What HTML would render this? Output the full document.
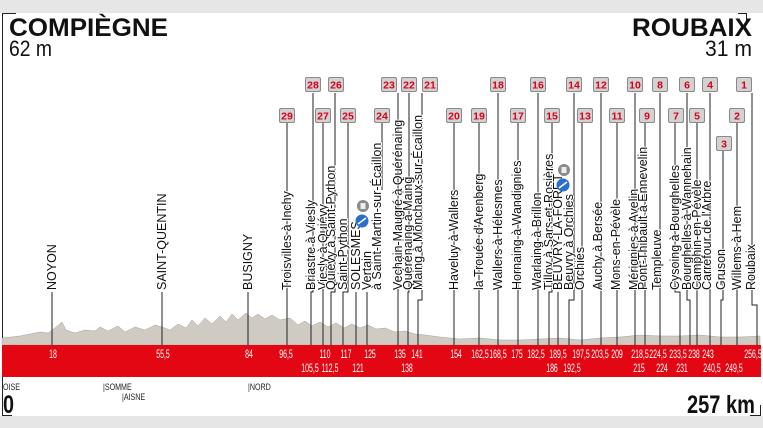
<!DOCTYPE html>
<html><head><meta charset="utf-8"><style>
html,body{margin:0;padding:0;background:#fff;}
svg{display:block;}
.lb{font-family:"Liberation Sans",sans-serif;font-size:12.5px;fill:#111;stroke:#fff;stroke-width:2px;paint-order:stroke;}
.bn{font-family:"Liberation Sans",sans-serif;font-weight:bold;font-size:10.5px;fill:#d8001a;text-anchor:middle;}
.rn{font-family:"Liberation Sans",sans-serif;font-size:12px;fill:#fff;text-anchor:middle;}
.dp{font-family:"Liberation Sans",sans-serif;font-size:9.5px;fill:#222;}
</style></head><body>
<svg width="763" height="428" viewBox="0 0 763 428" xmlns="http://www.w3.org/2000/svg">
<defs>
<g id="bd"><rect x="-8" y="0" width="16" height="15" rx="2" fill="#8a8a8a"/><rect x="-7" y="1" width="14" height="13" rx="1.5" fill="#d2d2d2"/></g>
</defs>
<rect x="0" y="0" width="763" height="13" fill="#e6e6e6"/>
<rect x="0" y="416" width="763" height="12" fill="#e6e6e6"/>
<path d="M16 13.5H2.5V415.5H12" stroke="#222" fill="none"/>
<path d="M738 13.5H746.5V22" stroke="#222" fill="none"/>
<path d="M750 415.5H760.5V405" stroke="#222" fill="none"/>

<text x="9" y="36" font-family="Liberation Sans,sans-serif" font-weight="bold" font-size="25" textLength="159" lengthAdjust="spacingAndGlyphs" fill="#111">COMPIÈGNE</text>
<text x="9" y="56" font-family="Liberation Sans,sans-serif" font-size="22" textLength="43" lengthAdjust="spacingAndGlyphs" fill="#111">62 m</text>
<text x="752" y="36" text-anchor="end" font-family="Liberation Sans,sans-serif" font-weight="bold" font-size="25" textLength="120" lengthAdjust="spacingAndGlyphs" fill="#111">ROUBAIX</text>
<text x="705" y="56" font-family="Liberation Sans,sans-serif" font-size="22" textLength="47" lengthAdjust="spacingAndGlyphs" fill="#111">31 m</text>

<polygon fill="#cfcac2" stroke="#a8a39a" stroke-width="0.5" points="2,345 2,338 20,336 30,334 40,332 48,333 55,328 62,322 66,330 75,333 85,330 95,331 100,327 108,331 118,326 125,332 135,327 145,330 155,325 162,327 170,330 178,324 186,328 192,320 198,326 205,318 212,324 220,316 226,322 232,314 238,320 246,313 252,318 258,314 265,319 272,315 280,320 290,318 298,325 305,321 312,326 320,322 328,327 336,323 344,328 352,324 360,328 368,325 376,329 385,328 395,332 405,331 415,334 425,335 440,337 460,339 480,338 500,340 520,340 540,339 560,338 580,340 600,338 620,337 640,335 660,336 680,336 700,335 720,337 740,337 760,336 760,345"/>

<rect x="2" y="345" width="759" height="32" fill="#e30613"/>

<g stroke="#222" stroke-width="1" fill="none">
<path d="M52 292V345M162 292V345M248 292V345"/>
<path d="M287 123V345"/>
<path d="M313 93V292H311V345"/>
<path d="M323 123V345"/>
<path d="M335 93V292H331V345"/>
<path d="M348 123V292H343V345"/>
<path d="M356 292V345"/>
<path d="M382 123V190"/><path d="M367 292V345"/>
<path d="M398 93V345"/>
<path d="M409 93V292H408V345"/>
<path d="M422 93V300H418V345"/>
<path d="M454 123V345"/>
<path d="M479 123V345"/>
<path d="M498 93V345"/>
<path d="M518 123V345"/>
<path d="M538 93V345"/>
<path d="M552 123V292H549V345"/>
<path d="M558 292V345"/>
<path d="M574 93V300H569V345"/>
<path d="M582 123V345"/>
<path d="M601 93V345"/>
<path d="M617 123V345"/>
<path d="M635 93V345"/>
<path d="M645 123V345"/>
<path d="M660 93V345"/>
<path d="M675 123V292H680V345"/>
<path d="M687 93V300H690V345"/>
<path d="M697 123V345"/>
<path d="M710 93V345"/>
<path d="M723 150V300H721V345"/>
<path d="M737 123V345"/>
<path d="M752 93V305H757V345"/>
</g>

<g class="lb">
<text transform="translate(56,290) rotate(-90)">NOYON</text>
<text transform="translate(166,290) rotate(-90)">SAINT-QUENTIN</text>
<text transform="translate(252,290) rotate(-90)">BUSIGNY</text>
<text transform="translate(291,290) rotate(-90)">Troisvilles à Inchy</text>
<text transform="translate(315,290) rotate(-90)">Briastre à Viesly</text>
<text transform="translate(327,290) rotate(-90)">Viesly à Quiévy</text>
<text transform="translate(335,290) rotate(-90)">Quiévy à Saint-Python</text>
<text transform="translate(347,290) rotate(-90)">Saint-Python</text>
<text transform="translate(360,290) rotate(-90)">SOLESMES</text>
<text transform="translate(371,290) rotate(-90)">Vertain</text>
<text transform="translate(381,290) rotate(-90)">à Saint-Martin-sur-Écaillon</text>
<text transform="translate(402,290) rotate(-90)">Vechain-Maugré à Quérénaing</text>
<text transform="translate(412,290) rotate(-90)">Quérénaing à Maing</text>
<text transform="translate(422,290) rotate(-90)">Maing à Monchaux-sur-Écaillon</text>
<text transform="translate(458,290) rotate(-90)">Haveluy à Wallers</text>
<text transform="translate(483,290) rotate(-90)">la Trouée d'Arenberg</text>
<text transform="translate(502,290) rotate(-90)">Wallers à Hélesmes</text>
<text transform="translate(521,290) rotate(-90)">Hornaing à Wandignies</text>
<text transform="translate(541,290) rotate(-90)">Warlaing à Brillon</text>
<text transform="translate(553,290) rotate(-90)">Tilloy à Sars-et-Rosières</text>
<text transform="translate(562,290) rotate(-90)">BEUVRY-LA-FORET</text>
<text transform="translate(573,290) rotate(-90)">Beuvry à Orchies</text>
<text transform="translate(584,290) rotate(-90)">Orchies</text>
<text transform="translate(602,290) rotate(-90)">Auchy à Bersée</text>
<text transform="translate(620,290) rotate(-90)">Mons-en-Pévèle</text>
<text transform="translate(638,290) rotate(-90)">Mérignies à Avelin</text>
<text transform="translate(647,290) rotate(-90)">Pont-Thibault à Ennevelin</text>
<text transform="translate(661,290) rotate(-90)">Templeuve</text>
<text transform="translate(679,290) rotate(-90)">Cysoing à Bourghelles</text>
<text transform="translate(691,290) rotate(-90)">Bourghelles à Wannehain</text>
<text transform="translate(701,290) rotate(-90)">Camphin-en-Pévèle</text>
<text transform="translate(711,290) rotate(-90)">Carrefour de l'Arbre</text>
<text transform="translate(725,290) rotate(-90)">Gruson</text>
<text transform="translate(741,290) rotate(-90)">Willems à Hem</text>
<text transform="translate(755,290) rotate(-90)">Roubaix</text>
</g>

<circle cx="363" cy="206" r="6" fill="#8a8a8a"/><rect x="360.5" y="203" width="5" height="6" fill="#eee"/>
<circle cx="362" cy="221" r="6.5" fill="#2a6fcf"/><path d="M358 224L366 218" stroke="#fff" stroke-width="1.5"/>
<circle cx="564" cy="170" r="6" fill="#8a8a8a"/><rect x="561.5" y="167" width="5" height="6" fill="#eee"/>
<circle cx="563" cy="185" r="6.5" fill="#2a6fcf"/><path d="M559 188L567 182" stroke="#fff" stroke-width="1.5"/>

<g>
<use href="#bd" x="287" y="108"/><text class="bn" x="287" y="119.5">29</text>
<use href="#bd" x="313" y="77"/><text class="bn" x="313" y="88.5">28</text>
<use href="#bd" x="323" y="108"/><text class="bn" x="323" y="119.5">27</text>
<use href="#bd" x="336" y="77"/><text class="bn" x="336" y="88.5">26</text>
<use href="#bd" x="348" y="108"/><text class="bn" x="348" y="119.5">25</text>
<use href="#bd" x="382" y="108"/><text class="bn" x="382" y="119.5">24</text>
<use href="#bd" x="389" y="77"/><text class="bn" x="389" y="88.5">23</text>
<use href="#bd" x="409" y="77"/><text class="bn" x="409" y="88.5">22</text>
<use href="#bd" x="430" y="77"/><text class="bn" x="430" y="88.5">21</text>
<use href="#bd" x="454" y="108"/><text class="bn" x="454" y="119.5">20</text>
<use href="#bd" x="479" y="108"/><text class="bn" x="479" y="119.5">19</text>
<use href="#bd" x="498" y="77"/><text class="bn" x="498" y="88.5">18</text>
<use href="#bd" x="518" y="108"/><text class="bn" x="518" y="119.5">17</text>
<use href="#bd" x="538" y="77"/><text class="bn" x="538" y="88.5">16</text>
<use href="#bd" x="552" y="108"/><text class="bn" x="552" y="119.5">15</text>
<use href="#bd" x="574" y="77"/><text class="bn" x="574" y="88.5">14</text>
<use href="#bd" x="585" y="108"/><text class="bn" x="585" y="119.5">13</text>
<use href="#bd" x="601" y="77"/><text class="bn" x="601" y="88.5">12</text>
<use href="#bd" x="617" y="108"/><text class="bn" x="617" y="119.5">11</text>
<use href="#bd" x="635" y="77"/><text class="bn" x="635" y="88.5">10</text>
<use href="#bd" x="647" y="108"/><text class="bn" x="647" y="119.5">9</text>
<use href="#bd" x="660" y="77"/><text class="bn" x="660" y="88.5">8</text>
<use href="#bd" x="676" y="108"/><text class="bn" x="676" y="119.5">7</text>
<use href="#bd" x="687" y="77"/><text class="bn" x="687" y="88.5">6</text>
<use href="#bd" x="697" y="108"/><text class="bn" x="697" y="119.5">5</text>
<use href="#bd" x="710" y="77"/><text class="bn" x="710" y="88.5">4</text>
<use href="#bd" x="724" y="136"/><text class="bn" x="724" y="147.5">3</text>
<use href="#bd" x="737" y="108"/><text class="bn" x="737" y="119.5">2</text>
<use href="#bd" x="744" y="77"/><text class="bn" x="744" y="88.5">1</text>
</g>

<g class="rn">
<text transform="translate(53,358) scale(0.58,1)">18</text><text transform="translate(163,358) scale(0.58,1)">55,5</text><text transform="translate(249,358) scale(0.58,1)">84</text>
<text transform="translate(286,358) scale(0.58,1)">96,5</text><text transform="translate(325,358) scale(0.58,1)">110</text><text transform="translate(346,358) scale(0.58,1)">117</text>
<text transform="translate(370,358) scale(0.58,1)">125</text><text transform="translate(400,358) scale(0.58,1)">135</text><text transform="translate(417,358) scale(0.58,1)">141</text>
<text transform="translate(456,358) scale(0.58,1)">154</text><text transform="translate(480,358) scale(0.58,1)">162,5</text><text transform="translate(498,358) scale(0.58,1)">168,5</text>
<text transform="translate(517,358) scale(0.58,1)">175</text><text transform="translate(536,358) scale(0.58,1)">182,5</text><text transform="translate(558,358) scale(0.58,1)">189,5</text>
<text transform="translate(581,358) scale(0.58,1)">197,5</text><text transform="translate(600,358) scale(0.58,1)">203,5</text><text transform="translate(617,358) scale(0.58,1)">209</text>
<text transform="translate(640,358) scale(0.58,1)">218,5</text><text transform="translate(658,358) scale(0.58,1)">224,5</text><text transform="translate(678,358) scale(0.58,1)">233,5</text>
<text transform="translate(694,358) scale(0.58,1)">238</text><text transform="translate(708,358) scale(0.58,1)">243</text><text transform="translate(753,358) scale(0.58,1)">256,5</text>
<text transform="translate(310,372) scale(0.58,1)">105,5</text><text transform="translate(330,372) scale(0.58,1)">112,5</text><text transform="translate(358,372) scale(0.58,1)">121</text>
<text transform="translate(407,372) scale(0.58,1)">138</text><text transform="translate(552,372) scale(0.58,1)">186</text><text transform="translate(572,372) scale(0.58,1)">192,5</text>
<text transform="translate(639,372) scale(0.58,1)">215</text><text transform="translate(662,372) scale(0.58,1)">224</text><text transform="translate(682,372) scale(0.58,1)">231</text>
<text transform="translate(712,372) scale(0.58,1)">240,5</text><text transform="translate(734,372) scale(0.58,1)">249,5</text>
</g>

<g class="dp">
<text transform="translate(3,390) scale(0.75,1)">OISE</text>
<text transform="translate(103,390) scale(0.75,1)">|SOMME</text>
<text transform="translate(122,400) scale(0.75,1)">|AISNE</text>
<text transform="translate(248,390) scale(0.75,1)">|NORD</text>
</g>
<text x="3" y="413" font-family="Liberation Sans,sans-serif" font-weight="bold" font-size="25" textLength="11" lengthAdjust="spacingAndGlyphs" fill="#111">0</text>
<text x="687" y="413" font-family="Liberation Sans,sans-serif" font-weight="bold" font-size="25" textLength="68" lengthAdjust="spacingAndGlyphs" fill="#111">257 km</text>
</svg>
</body></html>
